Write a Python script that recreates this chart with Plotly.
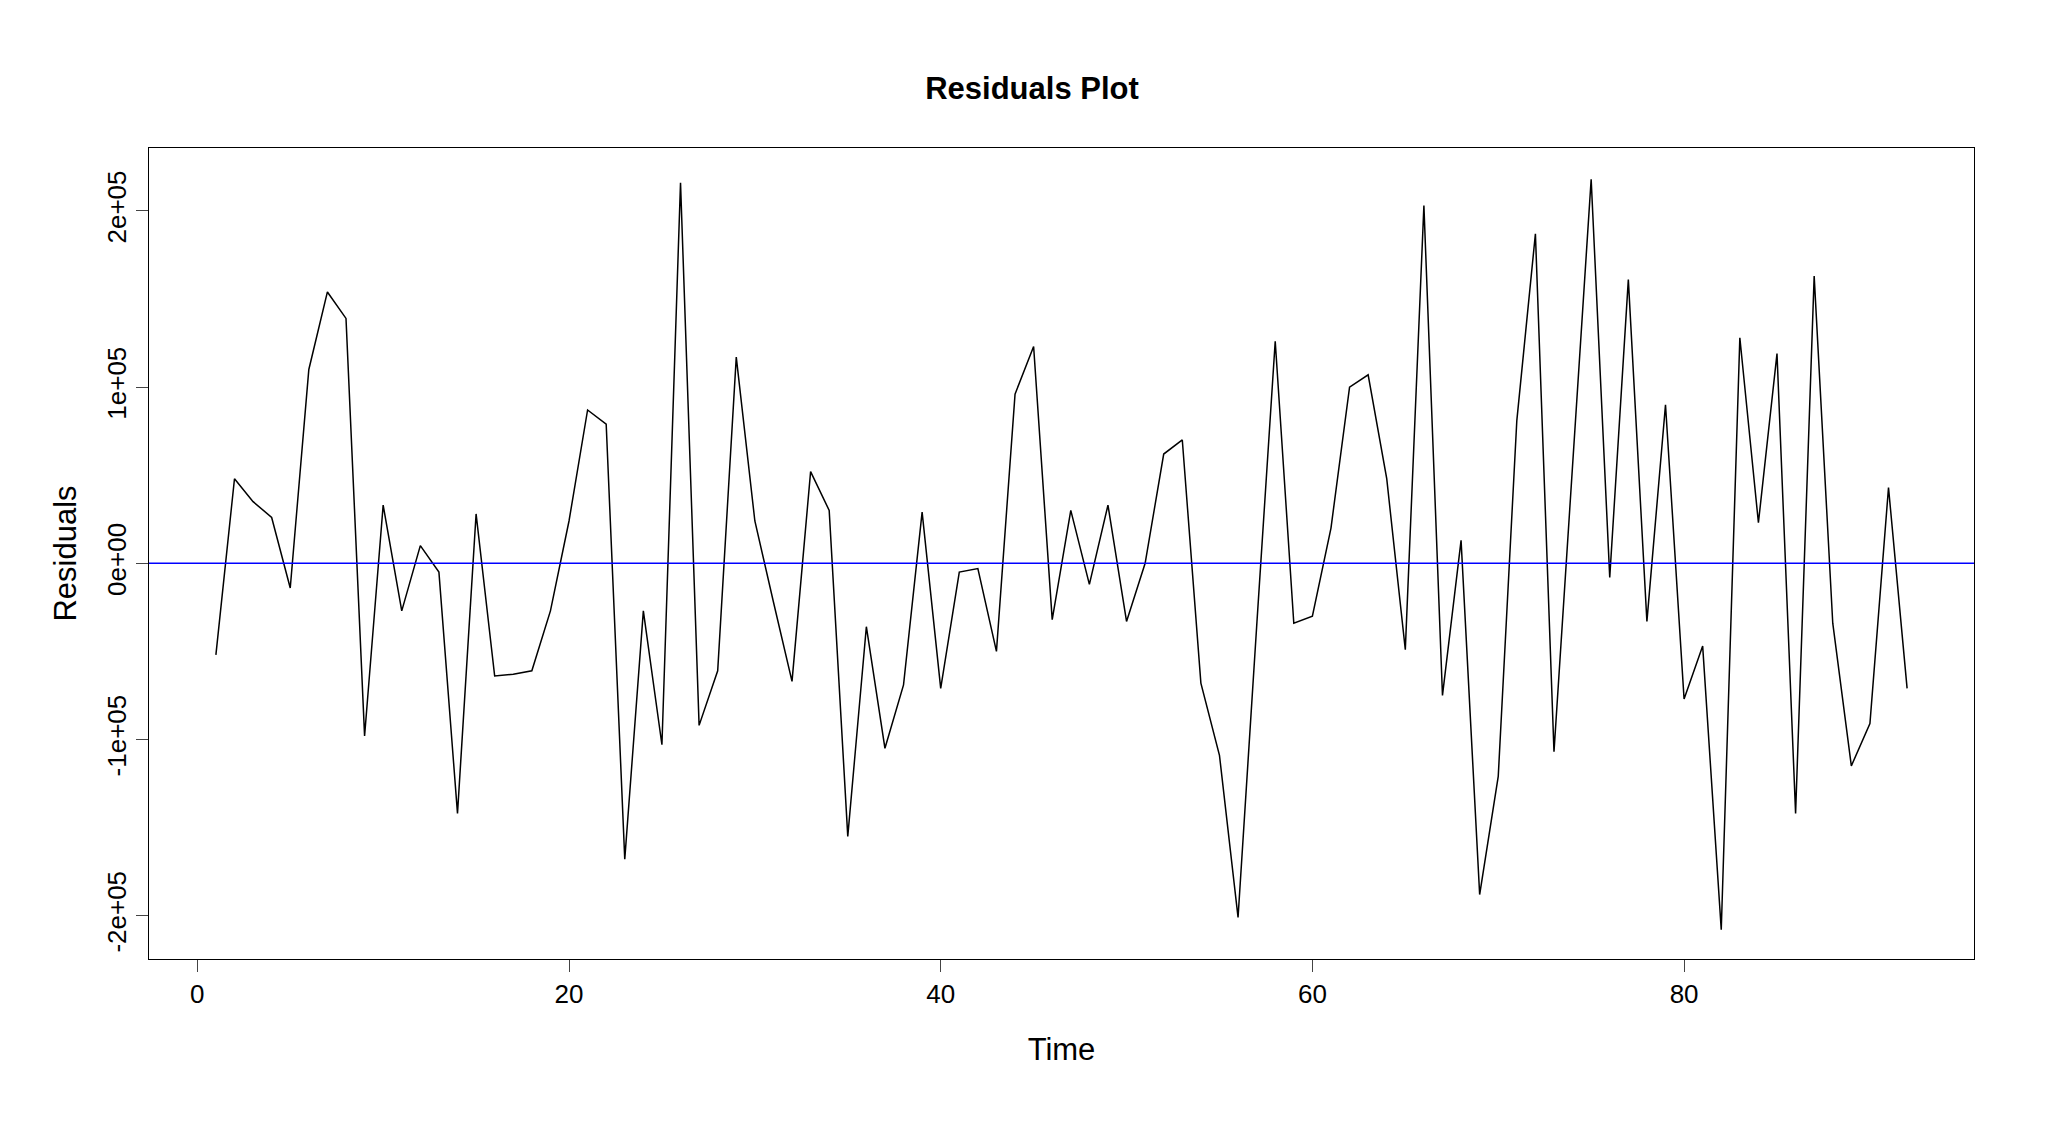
import plotly.graph_objects as go

time = list(range(1, 93))
residuals = [-52e3, 48e3, 35e3, 26e3, -14e3, 110e3, 154e3, 139e3, -98e3, 33e3,
             -27e3, 10e3, -5e3, -142e3, 28e3, -64e3, -63e3, -61e3, -27e3, 24e3,
             87e3, 79e3, -168e3, -27e3, -103e3, 216e3, -92e3, -61e3, 117e3, 24e3,
             -22e3, -67e3, 52e3, 30e3, -155e3, -36e3, -105e3, -69e3, 29e3, -71e3,
             -5e3, -3e3, -50e3, 96e3, 123e3, -32e3, 30e3, -12e3, 33e3, -33e3,
             0, 62e3, 70e3, -68e3, -109e3, -201e3, -36e3, 126e3, -34e3, -30e3,
             20e3, 100e3, 107e3, 48e3, -49e3, 203e3, -75e3, 13e3, -188e3, -121e3,
             81e3, 187e3, -107e3, 56e3, 218e3, -8e3, 161e3, -33e3, 90e3, -77e3,
             -47e3, -208e3, 128e3, 23e3, 119e3, -142e3, 163e3, -34e3, -115e3, -91e3,
             43e3, -71e3]
xticks = [0, 20, 40, 60, 80]
yticks = [-2e5, -1e5, 0, 1e5, 2e5]
yticklabels = ["-2e+05", "-1e+05", "0e+00", "1e+05", "2e+05"]

fig = go.Figure()
fig.add_trace(go.Scatter(x=time, y=residuals, mode="lines",
                         line=dict(color="black", width=1.5), showlegend=False))
fig.add_hline(y=0, line=dict(color="#0000ff", width=1.5))

font = "Liberation Sans, Arial, sans-serif"
fig.update_layout(
    width=2048, height=1142, plot_bgcolor="white", paper_bgcolor="white",
    margin=dict(l=141, r=82, t=140, b=191),
    title=dict(text="<b>Residuals Plot</b>", x=0.5, xanchor="center", y=0.93, yanchor="middle",
               font=dict(family=font, size=31, color="black")),
    font=dict(family=font, size=26, color="black"),
)
fig.update_xaxes(range=[-2.6, 95.6], tickvals=xticks, ticks="outside", ticklen=12,
                 showgrid=False, zeroline=False, showline=True, linecolor="black", mirror=True,
                 automargin=False, title=dict(text="Time", standoff=30))
fig.update_yaxes(range=[-2.246e5, 2.357e5], tickvals=yticks, ticktext=yticklabels,
                 tickangle=-90, ticks="outside", ticklen=12,
                 showgrid=False, zeroline=False, showline=True, linecolor="black", mirror=True,
                 automargin=False, title=dict(text="Residuals", standoff=15))
fig.write_html("out.html")
